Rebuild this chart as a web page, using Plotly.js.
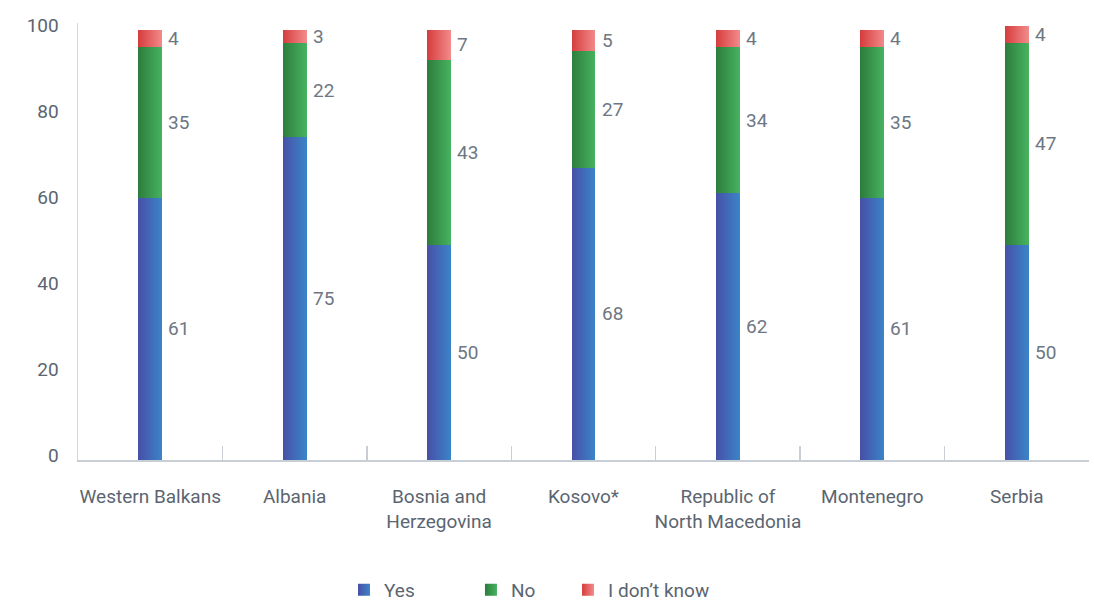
<!DOCTYPE html>
<html>
<head>
<meta charset="utf-8">
<script src="https://cdn.plot.ly/plotly-3.0.1.min.js"></script>
<style>
html,body{margin:0;padding:0;background:#fff;}
#chart{width:1094px;height:601px;}
</style>
</head>
<body>
<div id="chart"></div>
<script>
const categories = ["Western Balkans", "Albania", "Bosnia and<br>Herzegovina", "Kosovo*", "Republic of<br>North Macedonia", "Montenegro", "Serbia"];
const yesValues = [61, 75, 50, 68, 62, 61, 50];
const noValues = [35, 22, 43, 27, 34, 35, 47];
const dkValues = [4, 3, 7, 5, 4, 4, 4];
const seriesNames = ["Yes", "No", "I don\u2019t know"];
const seriesColors = ["#3f69b6", "#389a4f", "#e56565"];
const gradientStops = [["#4750a6", "#3b84c8"], ["#2c7d3c", "#47b360"], ["#d63c3c", "#f28b8b"]];
const yTicks = [0, 20, 40, 60, 80, 100];

const textColor = "#5b6571";
const font = "Roboto, 'Open Sans', sans-serif";
const seriesValues = [yesValues, noValues, dkValues];
const legendIds = ["legend", "legend2", "legend3"];
const legendX = [0.2631, 0.3887, 0.4847];

const traces = seriesValues.map((vals, i) => ({
  type: "bar",
  name: seriesNames[i],
  x: categories,
  y: vals,
  width: 0.166,
  legend: legendIds[i],
  marker: {color: seriesColors[i], line: {width: 0}},
  hoverinfo: "x+y+name"
}));

const annotations = [];
categories.forEach((c, ci) => {
  let base = 0;
  seriesValues.forEach(vals => {
    const v = vals[ci];
    annotations.push({
      x: c, y: base + v / 2, xref: "x", yref: "y",
      text: String(v), showarrow: false,
      xanchor: "left", yanchor: "middle", xshift: 16,
      font: {family: font, size: 19, color: "#6e7782"}
    });
    base += v;
  });
});

const layout = {
  width: 1094, height: 601,
  margin: {l: 78, r: 5, t: 23, b: 141, autoexpand: false},
  barmode: "stack",
  paper_bgcolor: "#fff", plot_bgcolor: "#fff",
  font: {family: font, size: 18, color: textColor},
  showlegend: true,
  xaxis: {
    type: "category",
    showline: true, linecolor: "#c9ced4", linewidth: 1.5,
    showgrid: false, zeroline: false,
    ticks: "inside", tickson: "boundaries", ticklen: 14, tickcolor: "#c9ced4", tickwidth: 1.5,
    tickfont: {family: font, size: 19, color: textColor},
    tickangle: 0,
    ticklabelstandoff: 19,
    automargin: false,
    fixedrange: true
  },
  yaxis: {
    range: [0, 101.6],
    tickvals: yTicks, ticktext: yTicks.map(String),
    showline: true, linecolor: "#d3d7dc", linewidth: 1.5,
    showgrid: false, zeroline: false, ticks: "",
    tickfont: {family: font, size: 19, color: textColor},
    ticklabelstandoff: 14, ticklabelshift: -5,
    automargin: false,
    fixedrange: true
  },
  annotations: annotations
};
legendIds.forEach((id, i) => {
  layout[id] = {
    orientation: "h",
    x: legendX[i], xanchor: "left", y: -0.297, yanchor: "middle",
    font: {family: font, size: 19, color: textColor},
    bgcolor: "rgba(0,0,0,0)"
  };
});

Plotly.newPlot("chart", traces, layout, {displayModeBar: false, staticPlot: true}).then(gd => {
  const svg = gd.querySelector("svg.main-svg");
  const ns = "http://www.w3.org/2000/svg";
  let defs = svg.querySelector("defs");
  if (!defs) { defs = document.createElementNS(ns, "defs"); svg.insertBefore(defs, svg.firstChild); }
  gradientStops.forEach((stops, i) => {
    const g = document.createElementNS(ns, "linearGradient");
    g.setAttribute("id", "barGrad" + i);
    g.setAttribute("x1", "0"); g.setAttribute("x2", "1");
    g.setAttribute("y1", "0"); g.setAttribute("y2", "0");
    stops.forEach((col, k) => {
      const s = document.createElementNS(ns, "stop");
      s.setAttribute("offset", k === 0 ? "0" : "1");
      s.setAttribute("stop-color", col);
      g.appendChild(s);
    });
    defs.appendChild(g);
  });
  const traceGroups = gd.querySelectorAll(".barlayer .trace");
  traceGroups.forEach((tg, i) => {
    tg.querySelectorAll("path").forEach(p => { p.style.fill = "url(#barGrad" + i + ")"; });
  });
  legendIds.forEach((id, i) => {
    gd.querySelectorAll("." + id + " .legendpoints path").forEach(p => { p.style.fill = "url(#barGrad" + i + ")"; });
  });
});
</script>
</body>
</html>
